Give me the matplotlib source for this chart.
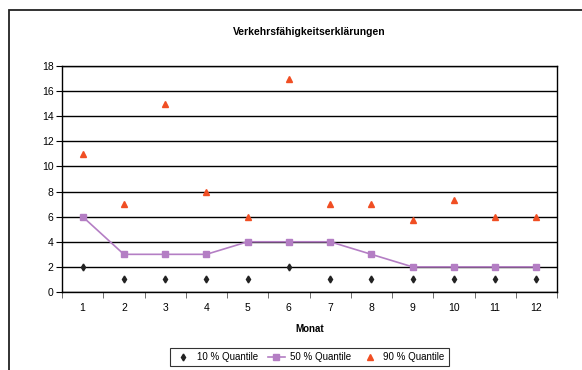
import matplotlib
matplotlib.use("Agg")
import matplotlib.pyplot as plt
from matplotlib.patches import Rectangle
import numpy as np

plt.rcParams['font.family'] = ['Liberation Sans', 'DejaVu Sans']

monate = [1, 2, 3, 4, 5, 6, 7, 8, 9, 10, 11, 12]
q10 = [2, 1, 1, 1, 1, 2, 1, 1, 1, 1, 1, 1]
q50 = [6, 3, 3, 3, 4, 4, 4, 3, 2, 2, 2, 2]
q90 = [11, 7, 15, 8, 6, 17, 7, 7, 5.7, 7.3, 6, 6]

fig = plt.figure(figsize=(5.82, 3.70), dpi=100)
ax = fig.add_axes([62/582, 1 - 292/370, (557 - 62)/582, (292 - 66)/370])

# aeusserer Rahmen (rechts und unten abgeschnitten)
fig.patches.append(Rectangle((9/582, -0.1), 1.2, 1 - 10/370 + 0.1, transform=fig.transFigure,
                             fill=False, edgecolor='#222222', linewidth=1.3, clip_on=False))

ax.plot(monate, q10, linestyle='none', marker='d', markersize=3.5, color='#222222', label='10 % Quantile')
ax.plot(monate, q50, color='#B47EC4', linewidth=1.2, marker='s', markersize=4, label='50 % Quantile')
ax.plot(monate, q90, linestyle='none', marker='^', markersize=5, color='#F04E23', label='90 % Quantile')

ax.set_xlim(0.5, 12.5)
ax.set_ylim(0, 18)
ax.set_yticks(np.arange(0, 19, 2))
ax.set_xticks(monate)
ax.set_xticks(np.arange(0.5, 13, 1), minor=True)
ax.tick_params(axis='x', which='major', length=0, labelsize=7.5, pad=8)
ax.tick_params(axis='x', which='minor', length=4, color='#555555')
ax.tick_params(axis='y', length=4, labelsize=7.5, pad=2)
ax.yaxis.grid(True, color='black', linewidth=1)
ax.set_axisbelow(True)
for s in ax.spines.values():
    s.set_color('black')
    s.set_linewidth(1)

ax.set_title('Verkehrsfähigkeitserklärungen', fontsize=7.5, fontweight='bold', pad=22)
ax.set_xlabel('Monat', fontsize=7, fontweight='bold', labelpad=8)

leg = ax.legend(loc='upper center', bbox_to_anchor=(0.5, -0.225), ncol=3, fontsize=7,
                frameon=True, fancybox=False, edgecolor='black', handlelength=1.8,
                columnspacing=1.0, borderpad=0.45, handletextpad=0.5)
leg.get_frame().set_linewidth(0.8)

fig.savefig('out.png', dpi=100)
